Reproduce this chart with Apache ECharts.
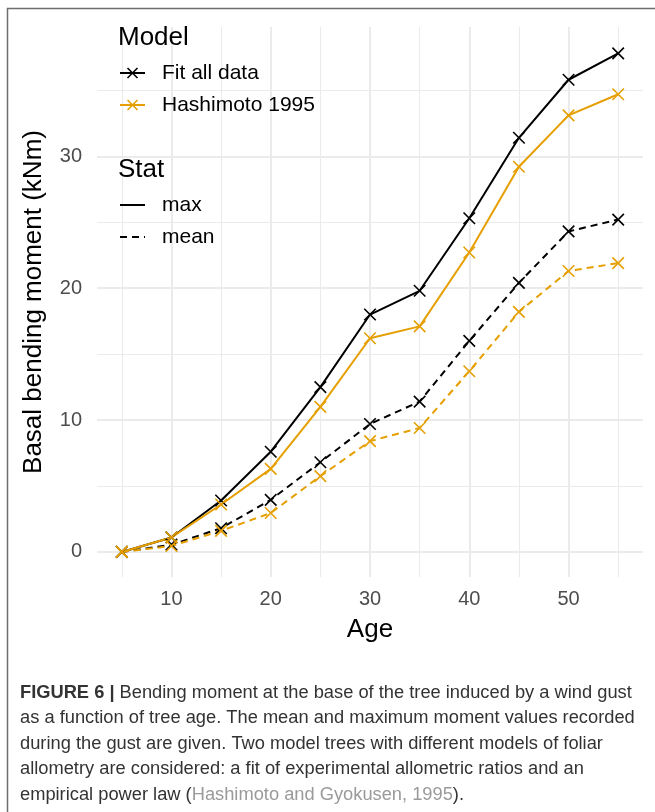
<!DOCTYPE html>
<html>
<head>
<meta charset="utf-8">
<script src="https://cdn.jsdelivr.net/npm/echarts@6/dist/echarts.min.js"></script>
<style>
  html, body { margin: 0; padding: 0; background: #ffffff; }
  #chart { width: 655px; height: 812px; }
</style>
</head>
<body>
<div id="chart"></div>
<script>
// ---- data ----
const ages = [5, 10, 15, 20, 25, 30, 35, 40, 45, 50, 55];
const fitAllMax      = [0, 1.1, 3.9, 7.6, 12.5, 18.0, 19.8, 25.3, 31.4, 35.8, 37.8];
const hashimotoMax   = [0, 1.1, 3.6, 6.3, 11.0, 16.2, 17.1, 22.7, 29.2, 33.1, 34.7];
const fitAllMean     = [0, 0.55, 1.8, 3.95, 6.8, 9.7, 11.4, 16.0, 20.4, 24.3, 25.2];
const hashimotoMean  = [0, 0.45, 1.6, 2.95, 5.75, 8.4, 9.4, 13.7, 18.2, 21.3, 21.9];
const modelNames = ['Fit all data', 'Hashimoto 1995'];
const statNames = ['max', 'mean'];
const yMajorTicks = [0, 10, 20, 30];
const yMinorTicks = [5, 15, 25, 35];
const xMajorTicks = [10, 20, 30, 40, 50];
const xMinorTicks = [5, 15, 25, 35, 45, 55];

const BLACK = '#000000';
const ORANGE = '#E69F00';
const FONT = 'Liberation Sans, Arial, sans-serif';
const XPATH = 'path://M0,0L10,10M10,0L0,10';
const X_RANGE = [2.5, 57.5];
const Y_RANGE = [-1.9, 39.8];

function pairs(ys) { return ages.map((a, i) => [a, ys[i]]); }

function mkSeries(name, ys, color, dashed) {
  return {
    name: name,
    type: 'line',
    xAxisIndex: 0, yAxisIndex: 0,
    data: pairs(ys),
    symbol: XPATH,
    symbolSize: 11.5,
    showAllSymbol: true,
    lineStyle: { color: color, width: 2, type: dashed ? [7, 5] : 'solid' },
    itemStyle: { color: 'rgba(0,0,0,0)', borderColor: color, borderWidth: 1.6 },
    emphasis: { disabled: true },
    animation: false,
    z: 3
  };
}

function xMark(cx, cy, color) {
  const h = 5;
  return [
    { type: 'line', shape: { x1: cx - h, y1: cy - h, x2: cx + h, y2: cy + h }, style: { stroke: color, lineWidth: 1.6 }, z: 10 },
    { type: 'line', shape: { x1: cx + h, y1: cy - h, x2: cx - h, y2: cy + h }, style: { stroke: color, lineWidth: 1.6 }, z: 10 }
  ];
}

const chart = echarts.init(document.getElementById('chart'), null, { renderer: 'canvas' });

const legendX = 118;
const keyX0 = 120, keyX1 = 145, keyXC = 132.5;
const CAP = '18.3px ' + FONT;
const graphics = [
  // figure border (open on the right/bottom as cropped)
  { type: 'rect', shape: { x: 7.5, y: 8.5, width: 760, height: 900 },
    style: { fill: 'none', stroke: '#6e6e6e', lineWidth: 1.5 }, silent: true, z: 0 },
  // legend: Model
  { type: 'text', x: legendX, y: 38, style: { text: 'Model', font: '26px ' + FONT, fill: '#000', verticalAlign: 'middle' }, z: 10 },
  { type: 'line', shape: { x1: keyX0, y1: 73, x2: keyX1, y2: 73 }, style: { stroke: BLACK, lineWidth: 2 }, z: 10 },
  ...xMark(keyXC, 73, BLACK),
  { type: 'text', x: 162, y: 73, style: { text: modelNames[0], font: '21px ' + FONT, fill: '#000', verticalAlign: 'middle' }, z: 10 },
  { type: 'line', shape: { x1: keyX0, y1: 105, x2: keyX1, y2: 105 }, style: { stroke: ORANGE, lineWidth: 2 }, z: 10 },
  ...xMark(keyXC, 105, ORANGE),
  { type: 'text', x: 162, y: 105, style: { text: modelNames[1], font: '21px ' + FONT, fill: '#000', verticalAlign: 'middle' }, z: 10 },
  // legend: Stat
  { type: 'text', x: legendX, y: 170, style: { text: 'Stat', font: '26px ' + FONT, fill: '#000', verticalAlign: 'middle' }, z: 10 },
  { type: 'line', shape: { x1: keyX0, y1: 205, x2: keyX1, y2: 205 }, style: { stroke: BLACK, lineWidth: 2 }, z: 10 },
  { type: 'text', x: 162, y: 205, style: { text: statNames[0], font: '21px ' + FONT, fill: '#000', verticalAlign: 'middle' }, z: 10 },
  { type: 'line', shape: { x1: keyX0, y1: 237, x2: keyX1, y2: 237 }, style: { stroke: BLACK, lineWidth: 2, lineDash: [7, 5] }, z: 10 },
  { type: 'text', x: 162, y: 237, style: { text: statNames[1], font: '21px ' + FONT, fill: '#000', verticalAlign: 'middle' }, z: 10 },
  // caption
  { type: 'text', x: 20, y: 693, style: {
      text: '{b|FIGURE 6 |} Bending moment at the base of the tree induced by a wind gust',
      font: CAP, fill: '#333', verticalAlign: 'middle',
      rich: { b: { font: 'bold ' + CAP, fill: '#333' } } } },
  { type: 'text', x: 20, y: 718, style: { text: 'as a function of tree age. The mean and maximum moment values recorded', font: CAP, fill: '#333', verticalAlign: 'middle' } },
  { type: 'text', x: 20, y: 744, style: { text: 'during the gust are given. Two model trees with different models of foliar', font: CAP, fill: '#333', verticalAlign: 'middle' } },
  { type: 'text', x: 20, y: 769, style: { text: 'allometry are considered: a fit of experimental allometric ratios and an', font: CAP, fill: '#333', verticalAlign: 'middle' } },
  { type: 'text', x: 20, y: 795, style: {
      text: 'empirical power law ({g|Hashimoto and Gyokusen, 1995}).',
      font: CAP, fill: '#333', verticalAlign: 'middle',
      rich: { g: { font: CAP, fill: '#9a9a9a' } } } }
];

const option = {
  backgroundColor: '#ffffff',
  animation: false,
  grid: { left: 97, right: 12, top: 27, bottom: 235, containLabel: false },
  xAxis: [
    {
      type: 'value', min: X_RANGE[0], max: X_RANGE[1],
      name: 'Age', nameLocation: 'middle', nameGap: 40,
      nameTextStyle: { fontSize: 26, color: '#000', fontFamily: FONT },
      axisLine: { show: false },
      axisTick: { show: false, customValues: xMajorTicks },
      axisLabel: { show: true, customValues: xMajorTicks, margin: 12, fontSize: 20, color: '#4D4D4D', fontFamily: FONT },
      splitLine: { show: true, lineStyle: { color: '#EBEBEB', width: 2 } },
      z: 1
    },
    {
      type: 'value', min: X_RANGE[0], max: X_RANGE[1], position: 'bottom',
      axisLine: { show: false },
      axisTick: { show: false, customValues: xMinorTicks },
      axisLabel: { show: false, customValues: xMinorTicks },
      splitLine: { show: true, lineStyle: { color: '#EBEBEB', width: 1.1 } },
      z: 0
    }
  ],
  yAxis: [
    {
      type: 'value', min: Y_RANGE[0], max: Y_RANGE[1],
      name: 'Basal bending moment (kNm)', nameLocation: 'middle', nameGap: 50, nameRotate: 90,
      nameTextStyle: { fontSize: 26, color: '#000', fontFamily: FONT },
      axisLine: { show: false },
      axisTick: { show: false, customValues: yMajorTicks },
      axisLabel: { show: true, customValues: yMajorTicks, margin: 15, fontSize: 20, color: '#4D4D4D', fontFamily: FONT },
      splitLine: { show: true, lineStyle: { color: '#EBEBEB', width: 2 } },
      z: 1
    },
    {
      type: 'value', min: Y_RANGE[0], max: Y_RANGE[1], position: 'left',
      axisLine: { show: false },
      axisTick: { show: false, customValues: yMinorTicks },
      axisLabel: { show: false, customValues: yMinorTicks },
      splitLine: { show: true, lineStyle: { color: '#EBEBEB', width: 1.1 } },
      z: 0
    }
  ],
  series: [
    mkSeries('Fit all data max', fitAllMax, BLACK, false),
    mkSeries('Fit all data mean', fitAllMean, BLACK, true),
    mkSeries('Hashimoto 1995 max', hashimotoMax, ORANGE, false),
    mkSeries('Hashimoto 1995 mean', hashimotoMean, ORANGE, true)
  ],
  graphic: graphics
};

chart.setOption(option);
</script>
</body>
</html>
